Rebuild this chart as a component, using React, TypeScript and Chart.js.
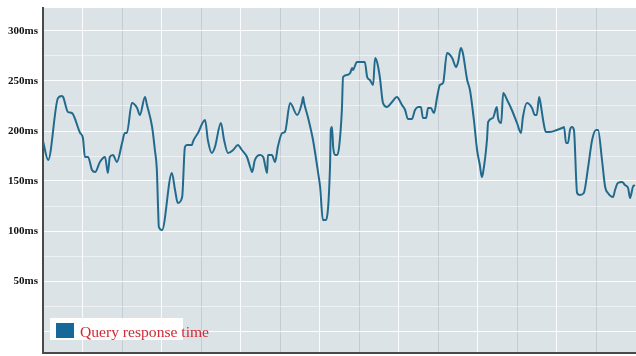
import React, { useEffect, useRef } from "react";
import { Chart, registerables } from "chart.js";

Chart.register(...registerables);

const SERIES_LABEL = "Query response time";

// elapsed time (minutes) and response time (ms)
const TIMES = [
  0, 1.3, 3.8, 4.8, 5.1, 6.3, 7.3, 9.4, 10.1, 10.6, 11.4, 12.4, 13.2, 14.4, 15.7, 16.4, 16.9, 17.7, 18.7,
  20.0, 20.7, 21.2, 22.5, 23.8, 24.5, 25.8, 26.3, 27.6, 28.3, 28.8, 29.1, 29.3, 30.1, 32.6, 33.4, 34.1,
  35.2, 35.9, 36.4, 37.7, 37.9, 39.2, 41.0, 41.7, 42.7, 43.5, 45.0, 45.8, 46.8, 48.1, 49.3, 50.3, 51.6,
  52.4, 52.9, 53.6, 54.9, 55.7, 56.7, 56.9, 57.9, 58.7, 59.4, 60.5, 61.2, 62.5, 64.3, 65.5, 65.8, 66.0,
  67.0, 68.3, 69.6, 70.1, 70.8, 71.6, 72.6, 72.8, 73.1, 73.4, 73.9, 74.4, 74.9, 75.6, 75.9, 76.9, 77.7,
  78.2, 78.4, 79.4, 81.4, 82.0, 82.7, 83.5, 84.0, 84.5, 85.2, 86.0, 87.0, 88.3, 89.5, 90.8, 91.6, 92.3,
  93.3, 94.1, 94.9, 95.6, 96.1, 96.9, 97.4, 98.1, 98.9, 99.7, 100.4, 101.2, 102.2, 103.5, 104.5, 105.0,
  105.7, 106.2, 107.3, 108.0, 109.0, 109.8, 110.5, 111.0, 111.3, 112.3, 112.6, 113.8, 114.8, 115.1,
  115.9, 116.4, 117.4, 118.6, 119.9, 120.9, 121.4, 122.4, 123.7, 124.4, 124.9, 125.5, 126.0, 126.5,
  127.2, 128.2, 130.0, 131.3, 131.8, 132.3, 132.8, 133.3, 133.8, 134.3, 135.1, 135.8, 136.8, 137.9,
  138.9, 139.9, 140.4, 141.4, 142.2, 142.9, 144.2, 144.7, 145.4, 146.5, 147.2, 148.0, 148.5, 149.2, 149.7,
];

const RESPONSE_MS = [
  190, 171, 233, 235, 234, 219, 218, 198, 193, 174, 174, 161, 159, 169, 174, 158, 174, 176, 169,
  188, 198, 198, 228, 223, 216, 234, 226, 204, 181, 161, 124, 104, 101, 158, 141, 128,
  134, 184, 186, 186, 189, 198, 211, 191, 178, 184, 208, 191, 178, 181, 186, 181, 174,
  164, 159, 171, 176, 174, 158, 176, 176, 169, 184, 198, 199, 228, 216, 228, 234, 229,
  214, 191, 158, 144, 111, 111, 164, 201, 204, 184, 176, 176, 184, 221, 254, 256, 258,
  263, 261, 269, 269, 254, 251, 246, 273, 269, 254, 228, 224, 229, 234, 226, 221, 212,
  212, 221, 224, 224, 213, 213, 223, 223, 218, 234, 246, 248, 278, 273, 264, 269,
  283, 278, 251, 241, 211, 181, 166, 154, 158, 191, 209, 213, 224, 213,
  208, 238, 231, 221, 208, 198, 214, 228, 223, 216, 216, 234, 224, 211,
  199, 199, 201, 203, 204, 188, 188, 201, 204, 201, 138, 136, 138, 164,
  191, 201, 201, 171, 144, 138, 134, 141, 148, 149, 146, 143, 133, 144, 146,
];

const X_TICKS = [0, 10, 20, 30, 40, 50, 60, 70, 80, 90, 100, 110, 120, 130, 140, 150];
const Y_TICKS = [0, 25, 50, 75, 100, 125, 150, 175, 200, 225, 250, 275, 300];
const Y_LABEL_STEP = 50;
const Y_MIN = -22;
const Y_MAX = 323;

export default function App() {
  const ref = useRef<HTMLCanvasElement | null>(null);

  useEffect(() => {
    document.body.style.margin = "0";
    if (!ref.current) return;

    const bgPlugin = {
      id: "plotBg",
      beforeDraw(chart: any) {
        const { ctx, chartArea: a } = chart;
        ctx.save();
        ctx.fillStyle = "#dce3e7";
        ctx.fillRect(a.left, a.top, a.right - a.left, a.bottom - a.top);
        ctx.restore();
      },
    };

    const legendPlugin = {
      id: "boxLegend",
      afterDraw(chart: any) {
        const { ctx, chartArea: a } = chart;
        const x0 = a.left + 7;
        const y0 = a.bottom - 35;
        ctx.save();
        ctx.fillStyle = "rgba(255,255,255,0.95)";
        ctx.fillRect(x0, y0, 133, 22);
        ctx.fillStyle = "#17679a";
        ctx.fillRect(x0 + 6, y0 + 5, 18, 15);
        ctx.fillStyle = "#d02a35";
        ctx.font = "15.6px 'Liberation Serif', serif";
        ctx.textBaseline = "alphabetic";
        ctx.textAlign = "left";
        ctx.fillText(SERIES_LABEL, x0 + 30, y0 + 19);
        ctx.restore();
      },
    };

    const chart = new Chart(ref.current, {
      type: "line",
      data: {
        datasets: [
          {
            label: SERIES_LABEL,
            data: TIMES.map((t, i) => ({ x: t, y: RESPONSE_MS[i] })),
            borderColor: "#226a8c",
            borderWidth: 2,
            pointRadius: 0,
            cubicInterpolationMode: "monotone",
            fill: false,
          },
        ],
      },
      options: {
        animation: false,
        responsive: false,
        maintainAspectRatio: false,
        layout: { padding: { top: 8, right: 0, bottom: 0, left: 0 } },
        plugins: { legend: { display: false }, tooltip: { enabled: false } },
        scales: {
          x: {
            type: "linear",
            min: 0,
            max: 150,
            afterBuildTicks: (s: any) => {
              s.ticks = X_TICKS.map((v) => ({ value: v }));
            },
            afterFit: (s: any) => {
              s.height = 3;
              s.paddingLeft = 0;
              s.paddingRight = 0;
            },
            ticks: { display: false },
            grid: {
              drawTicks: false,
              lineWidth: 1,
              color: (c: any) => {
                const v = c.tick ? c.tick.value : 0;
                if (v === 0) return "rgba(0,0,0,0)";
                return (v / 10) % 2 === 1 ? "rgba(255,255,255,0.85)" : "rgba(175,186,193,0.55)";
              },
            },
            border: { display: true, color: "#4a4a4a", width: 2 },
          },
          y: {
            type: "linear",
            min: Y_MIN,
            max: Y_MAX,
            afterBuildTicks: (s: any) => {
              s.ticks = Y_TICKS.map((v) => ({ value: v }));
            },
            afterFit: (s: any) => {
              s.width = 43;
              s.paddingTop = 0;
              s.paddingBottom = 0;
            },
            ticks: {
              padding: 5,
              color: "#111111",
              font: { family: "'Liberation Serif', serif", size: 11, weight: "bold" },
              callback: (v: any) => (v > 0 && v % Y_LABEL_STEP === 0 ? `${v}ms` : ""),
            },
            grid: {
              drawTicks: false,
              lineWidth: 1,
              color: (c: any) => {
                const v = c.tick ? c.tick.value : 0;
                return v % 50 === 0 ? "rgba(255,255,255,0.9)" : "rgba(255,255,255,0.5)";
              },
            },
            border: { display: true, color: "#4a4a4a", width: 2 },
          },
        },
      },
      plugins: [bgPlugin, legendPlugin],
    } as any);

    return () => chart.destroy();
  }, []);

  return (
    <div style={{ width: 636, height: 356 }}>
      <canvas ref={ref} width={636} height={356} style={{ display: "block" }} />
    </div>
  );
}
